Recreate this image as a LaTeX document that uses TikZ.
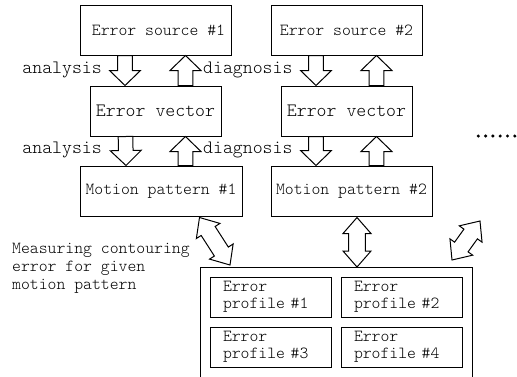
\documentclass[tikz,border=0pt]{standalone}
\usepackage{fontspec}
\setmainfont{Latin Modern Mono Light}
\usetikzlibrary{calc}
\newcommand{\sarr}[2]{%
  \coordinate (t1) at (#1); \coordinate (t2) at (#2);
  \coordinate (th) at ($(t2)!15pt!(t1)$);
  \draw[arr] ($(t1)!7.3pt!90:(t2)$) -- ($(th)!7.3pt!90:(t2)$) -- ($(th)!15.5pt!90:(t2)$) -- (t2)
    -- ($(th)!15.5pt!-90:(t2)$) -- ($(th)!7.3pt!-90:(t2)$) -- ($(t1)!7.3pt!-90:(t2)$) -- cycle;}
\newcommand{\darr}[2]{%
  \coordinate (t1) at (#1); \coordinate (t2) at (#2);
  \coordinate (ha) at ($(t1)!16pt!(t2)$); \coordinate (hb) at ($(t2)!16pt!(t1)$);
  \draw[arr] (t1) -- ($(ha)!14pt!90:(t2)$) -- ($(ha)!8.3pt!90:(t2)$) -- ($(hb)!8.3pt!90:(t2)$)
    -- ($(hb)!14pt!90:(t2)$) -- (t2) -- ($(hb)!14pt!-90:(t2)$) -- ($(hb)!8.3pt!-90:(t2)$)
    -- ($(ha)!8.3pt!-90:(t2)$) -- ($(ha)!14pt!-90:(t2)$) -- cycle;}
\begin{document}
\begin{tikzpicture}[x=1pt,y=-1pt,
  box/.style={draw, line width=1pt, minimum width=#1, minimum height=50pt, inner sep=0pt,
    font=\fontsize{16.9}{17}\selectfont},
  bigfont/.style={font=\fontsize{18.9}{19}\selectfont},
  profile/.style={draw, line width=1pt, minimum width=121pt, minimum height=40pt, inner sep=0pt,
    text width=95pt, align=left, font=\fontsize{16.9}{17}\selectfont},
  lbl/.style={inner sep=0pt, font=\fontsize{18.9}{19}\selectfont},
  arr/.style={draw, fill=white, line width=1pt, line join=miter},
  dot/.style={fill=black}]
\clip (0,0) rectangle (517,376);
\fill[white] (0,0) rectangle (517,376);
% boxes
\node[box=151pt] (es1) at (155.5,30) {\hspace*{6pt}Error source \#1};
\node[box=131pt, bigfont] (ev1) at (155.5,111) {Error vector};
\node[box=162pt] (mp1) at (161,191) {Motion pattern \#1};
\node[box=151pt] (es2) at (346.5,30) {Error source \#2};
\node[box=131pt, bigfont] (ev2) at (346.5,111) {Error vector};
\node[box=161pt] (mp2) at (351.5,191) {\raisebox{-2.5pt}{Motion pattern \#2}};
\draw[line width=1pt] (200,390) -- (200,267) coordinate (bignw) -- (472,267) coordinate (bigne) -- (472,390);
\node[profile] (p1) at (270.5,297) {Error\\profile \#1};
\node[profile] (p2) at (401.5,297) {Error\\profile \#2};
\node[profile] (p3) at (270.5,347) {Error\\profile \#3};
\node[profile] (p4) at (401.5,347) {Error\\profile \#4};
% labels
\node[lbl, anchor=east] (la1) at (102,70) {analysis};
\node[lbl, anchor=west] (ld1) at (203,70) {diagnosis};
\node[lbl, anchor=east] (la2) at (102,150) {analysis};
\node[lbl, anchor=west] (ld2) at (203,150) {diagnosis};
\node[anchor=north west, inner sep=0pt, align=left, font=\fontsize{16.9}{18}\selectfont] (meas) at (12,243)
  {Measuring contouring\\error for given\\motion pattern};
% block arrows column 1
\sarr{$(es1.south)+(-30.5,0)$}{$(ev1.north)+(-30.5,0)$}
\sarr{$(ev1.north)+(30,0)$}{$(es1.south)+(30,0)$}
\sarr{$(ev1.south)+(-30,0)$}{$(mp1.north)+(-35,0)$}
\sarr{$(mp1.north)+(24.5,0)$}{$(ev1.south)+(30,0)$}
% column 2
\sarr{$(es2.south)+(-30.5,0)$}{$(ev2.north)+(-30.5,0)$}
\sarr{$(ev2.north)+(30,0)$}{$(es2.south)+(30,0)$}
\sarr{$(ev2.south)+(-30.5,0)$}{$(mp2.north)+(-35.5,0)$}
\sarr{$(mp2.north)+(25,0)$}{$(ev2.south)+(30,0)$}
% double arrows
\darr{$(mp1.south west)+(120,1)$}{$(bignw)+(30,-2)$}
\darr{$(mp2.south)+(5.5,1)$}{$(bignw)+(157,0)$}
\coordinate (rda) at (452,260);
\coordinate (rdb) at (480,221);
\darr{rda}{rdb}
% dots
\foreach \k in {0,...,5} \fill[dot] (478.3+7.3*\k,136) circle (1.7);
\end{tikzpicture}
\end{document}
